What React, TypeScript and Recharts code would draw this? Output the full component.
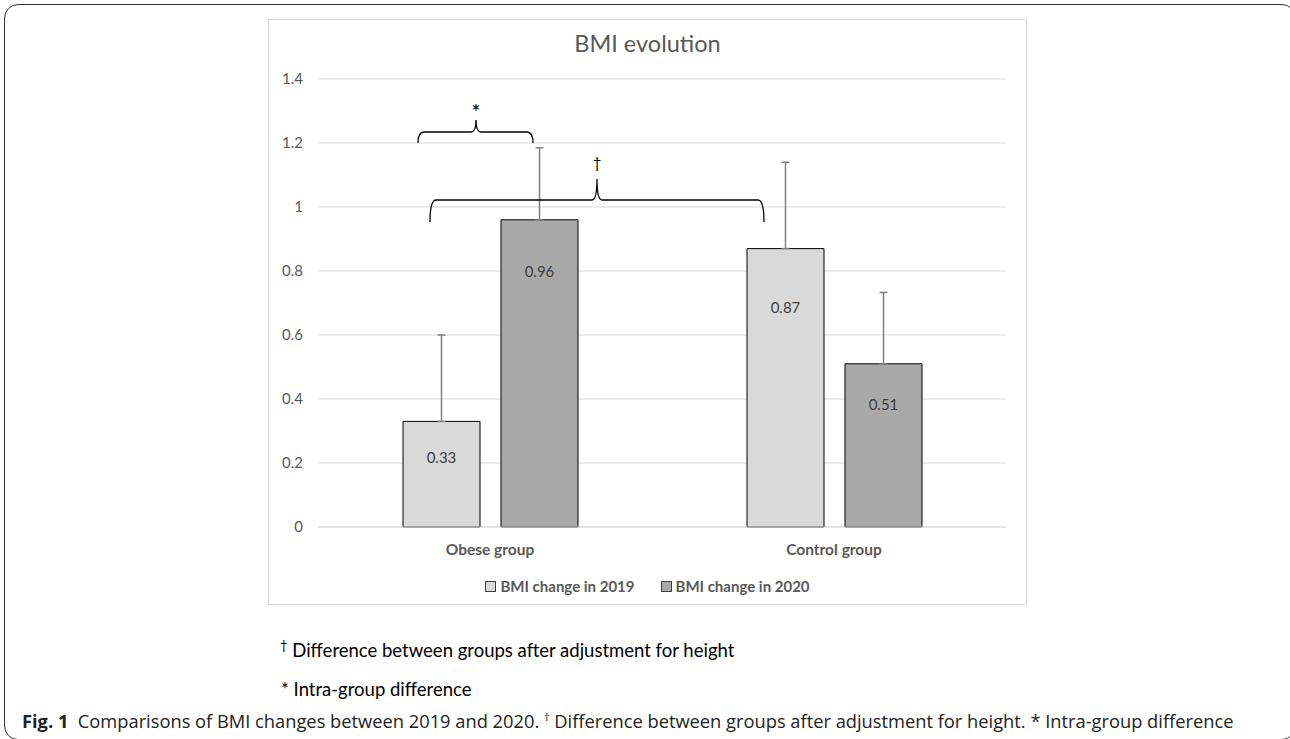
import { BarChart, Bar, XAxis, YAxis, CartesianGrid, ErrorBar, Legend, LabelList } from 'recharts'

// values
const GROUPS = ['Obese group', 'Control group']
const CHANGE_2019 = [0.33, 0.87]
const CHANGE_2020 = [0.96, 0.51]
const SD_2019 = [0.27, 0.27]
const SD_2020 = [0.225, 0.223]
const Y_TICKS = [0, 0.2, 0.4, 0.6, 0.8, 1, 1.2, 1.4]

const SERIES = [
  { key: 'y2019', err: 'e2019', name: 'BMI change in 2019', color: '#d9d9d9' },
  { key: 'y2020', err: 'e2020', name: 'BMI change in 2020', color: '#a9a9a9' },
]

// label offsets from the bar top, per series/group (as in the original figure)
const LABEL_DY: Record<string, number[]> = { y2019: [36, 58], y2020: [51, 40] }

const data = GROUPS.map((group, i) => ({
  group,
  y2019: CHANGE_2019[i],
  y2020: CHANGE_2020[i],
  e2019: [0, SD_2019[i]],
  e2020: [0, SD_2020[i]],
}))

const FONT = 'Lato, "Open Sans", sans-serif'

const valueLabel = (key: string) => (props: any) => {
  const { x = 0, y = 0, width = 0, value, index = 0 } = props
  return (
    <text
      x={Number(x) + Number(width) / 2}
      y={Number(y) + LABEL_DY[key][index]}
      textAnchor="middle"
      dominantBaseline="central"
      fill="#404040"
      fontSize={15}
      fontFamily={FONT}
    >
      {value}
    </text>
  )
}

const renderLegend = () => (
  <div
    style={{
      display: 'flex',
      justifyContent: 'center',
      gap: 26,
      fontFamily: FONT,
      fontWeight: 700,
      fontSize: 15,
      color: '#595959',
    }}
  >
    {SERIES.map((s) => (
      <span key={s.key} style={{ display: 'flex', alignItems: 'center' }}>
        <span
          style={{
            display: 'inline-block',
            width: 9,
            height: 9,
            border: '1px solid #404040',
            background: s.color,
            marginRight: 4,
          }}
        />
        {s.name}
      </span>
    ))}
  </div>
)

// curly bracket: ends at x0/x1, horizontal at yh, legs down to yb, peak up to yp at xm
const brace = (x0: number, x1: number, xm: number, yh: number, yb: number, yp: number) =>
  `M ${x0} ${yb} Q ${x0} ${yh} ${x0 + 6} ${yh} L ${xm - 5} ${yh} Q ${xm} ${yh} ${xm} ${yp} ` +
  `Q ${xm} ${yh} ${xm + 5} ${yh} L ${x1 - 6} ${yh} Q ${x1} ${yh} ${x1} ${yb}`

export default function App() {
  return (
    <div
      style={{
        position: 'absolute',
        left: 0,
        top: 0,
        width: 1290,
        height: 739,
        overflow: 'hidden',
        background: '#fff',
      }}
    >
      {/* outer figure frame */}
      <div
        style={{
          position: 'absolute',
          left: 4,
          top: 4,
          width: 1290,
          height: 734,
          border: '1.5px solid #333',
          borderRadius: 14,
        }}
      />

      {/* chart box */}
      <div
        style={{
          position: 'absolute',
          left: 268,
          top: 19,
          width: 757,
          height: 584,
          border: '1px solid #d9d9d9',
        }}
      >
        <div
          style={{
            position: 'absolute',
            left: 0,
            width: 757,
            top: 9,
            textAlign: 'center',
            fontFamily: FONT,
            fontSize: 23.5,
            color: '#595959',
          }}
        >
          BMI evolution
        </div>
        <BarChart
          width={757}
          height={584}
          data={data}
          margin={{ top: 59, right: 20, bottom: 47, left: 0 }}
          barSize={77}
          barGap={21}
        >
          <CartesianGrid vertical={false} stroke="#d9d9d9" />
          <XAxis
            dataKey="group"
            height={30}
            axisLine={{ stroke: '#d9d9d9' }}
            tickLine={false}
            tickMargin={11}
            tick={{ fill: '#595959', fontSize: 15.5, fontWeight: 700, fontFamily: FONT }}
          />
          <YAxis
            width={49}
            domain={[0, 1.4]}
            ticks={Y_TICKS}
            axisLine={false}
            tickLine={false}
            tickMargin={9}
            tick={{ fill: '#595959', fontSize: 15, fontFamily: FONT }}
          />
          <Legend
            verticalAlign="middle"
            align="center"
            content={renderLegend}
            wrapperStyle={{ top: 557, left: 0, width: 757 }}
          />
          {SERIES.map((s) => (
            <Bar
              key={s.key}
              dataKey={s.key}
              name={s.name}
              fill={s.color}
              stroke="#000"
              strokeWidth={1}
              isAnimationActive={false}
            >
              <ErrorBar dataKey={s.err} direction="y" width={4} stroke="#808080" strokeWidth={1.5} />
              <LabelList dataKey={s.key} content={valueLabel(s.key)} />
            </Bar>
          ))}
        </BarChart>
      </div>

      {/* significance brackets */}
      <svg
        width={1290}
        height={739}
        style={{ position: 'absolute', left: 0, top: 0, pointerEvents: 'none' }}
      >
        <path d={brace(418, 533, 476, 132, 143, 120)} fill="none" stroke="#000" strokeWidth={1.3} />
        <text
          x={476}
          y={111}
          textAnchor="middle"
          dominantBaseline="central"
          fontSize={22}
          fill="#000"
          fontFamily={FONT}
        >
          *
        </text>
        <path d={brace(430, 764, 597, 200, 222, 179)} fill="none" stroke="#000" strokeWidth={1.3} />
        <text
          x={597}
          y={162}
          textAnchor="middle"
          dominantBaseline="central"
          fontSize={15}
          fill="#000"
          fontFamily={FONT}
        >
          †
        </text>
      </svg>

      {/* footnotes */}
      <div
        style={{
          position: 'absolute',
          left: 280,
          top: 632,
          fontFamily: FONT,
          fontSize: 18.5,
          color: '#000',
          lineHeight: '26px',
        }}
      >
        <sup style={{ fontSize: 13 }}>†</sup> Difference between groups after adjustment for height
      </div>
      <div
        style={{
          position: 'absolute',
          left: 281,
          top: 676,
          fontFamily: FONT,
          fontSize: 18.5,
          color: '#000',
          lineHeight: '26px',
        }}
      >
        * Intra-group difference
      </div>

      {/* caption */}
      <div
        style={{
          position: 'absolute',
          left: 22,
          top: 704,
          fontFamily: '"Open Sans", sans-serif',
          fontSize: 18.3,
          color: '#222',
          lineHeight: '26px',
          whiteSpace: 'nowrap',
        }}
      >
        <b>Fig. 1</b>&nbsp; Comparisons of BMI changes between 2019 and 2020. <sup style={{ fontSize: 11 }}>†</sup>{' '}
        Difference between groups after adjustment for height. * Intra-group difference
      </div>
    </div>
  )
}
